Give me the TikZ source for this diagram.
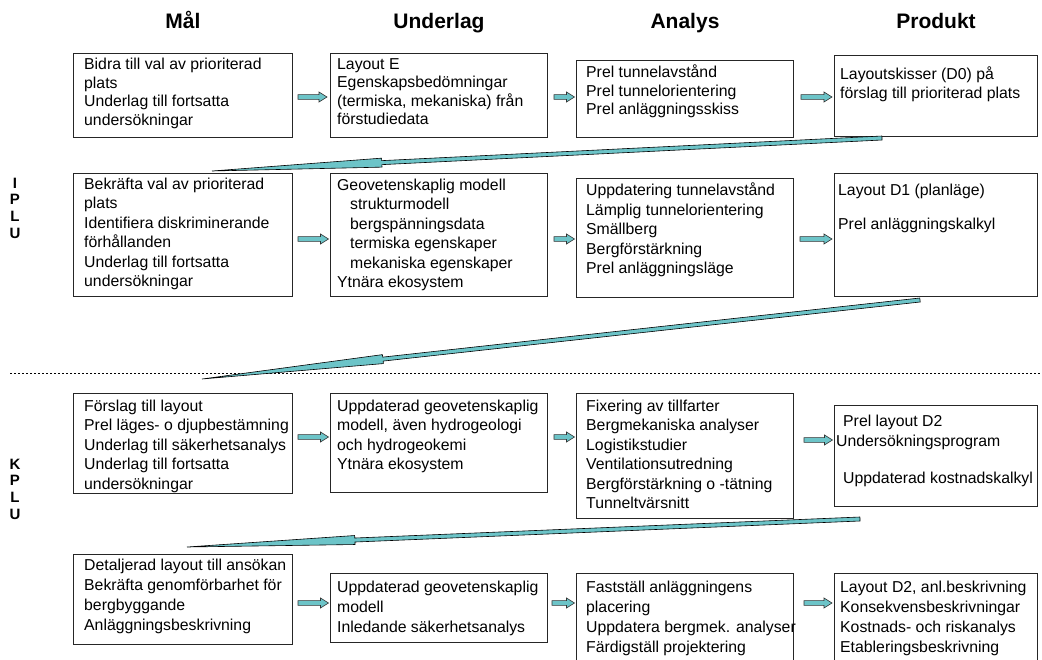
\documentclass[tikz,border=0pt]{standalone}
\usepackage{fontspec}
\setmainfont{Liberation Sans}
\usetikzlibrary{calc}

\definecolor{flowteal}{RGB}{108,196,200}

\tikzset{
  box/.style={draw=black!85, line width=1pt, anchor=north west, inner sep=0pt},
  txt/.style={anchor=north west, inner sep=0pt, align=left,
    font=\fontsize{15.8}{#1}\selectfont,
    execute at begin node=\rule{0pt}{12pt}},
  txt/.default=19.5,
  head/.style={font=\fontsize{21}{25}\selectfont\bfseries, anchor=base},
  side/.style={font=\fontsize{15}{16.8}\selectfont\bfseries, align=center,
    anchor=north, inner sep=0pt},
  flow/.style={draw=black!80, line width=0.6pt, fill=flowteal, line join=miter},
  wedge/.style={draw=black, line width=0.6pt, fill=flowteal, line join=miter},
  sep/.style={dash pattern=on 2pt off 2pt, line width=0.8pt}
}

% short block arrow between two boxes of a row
\newcommand{\flowarrow}[2]{%
  \draw[flow] let \p1=(#1), \p2=(#2) in
    (\x1,\y1+2.4pt) -- (\x2-8pt,\y1+2.4pt) -- (\x2-8pt,\y1+5pt) -- (\x2,\y1)
    -- (\x2-8pt,\y1-5pt) -- (\x2-8pt,\y1-2.4pt) -- (\x1,\y1-2.4pt) -- cycle;}

% long thin arrow from the end of one row to the start of the next
\newcommand{\rowlink}[3]{%
  \coordinate (hb) at ($(#2)!#3!(#1)$);
  \draw[wedge] ($(#1)!2pt!90:(#2)$) -- ($(hb)!2pt!90:(#2)$)
    -- ($(hb)!4.5pt!90:(#2)$) -- (#2) -- ($(hb)!4.5pt!-90:(#2)$)
    -- ($(hb)!2pt!-90:(#2)$) -- ($(#1)!2pt!-90:(#2)$) -- cycle;}

\begin{document}
\begin{tikzpicture}[x=1pt, y=-1pt]

\useasboundingbox (0,0) rectangle (1042,659);
\clip (0,0) rectangle (1042,659);

% rows where the short arrows sit
\coordinate (r1) at (0,97);
\coordinate (r2) at (0,239);
\coordinate (r3) at (0,437);
\coordinate (r3b) at (0,440);
\coordinate (r4) at (0,603);
\coordinate (top) at (0,28.5);

% first row
\node[box, minimum width=219pt, minimum height=84pt] (b11) at (73,53) {};
\node[box, minimum width=217pt, minimum height=84pt] (b12) at (330,53) {};
\node[box, minimum width=217pt, minimum height=77pt] (b13) at (576,60) {};
\node[box, minimum width=203pt, minimum height=81pt] (b14) at (834,55) {};

\node[txt=18.5] (t11) at ($(b11.north west)+(11,5)$)
  {Bidra till val av prioriterad\\plats\\Underlag till fortsatta\\undersökningar};
\node[txt=18.5] (t12) at ($(b12.north west)+(7,5)$)
  {Layout E\\Egenskapsbedömningar\\(termiska, mekaniska) från\\förstudiedata};
\node[txt=18.5] (t13) at ($(b13.north west)+(10,5)$)
  {Prel tunnelavstånd\\Prel tunnelorientering\\Prel anläggningsskiss};
\node[txt=18.5] (t14) at ($(b14.north west)+(6,12)$)
  {Layoutskisser (D0) på\\förslag till prioriterad plats};

% column heads
\node[head] (h1) at (b11.north |- top) {Mål};
\node[head] (h2) at (b12.north |- top) {Underlag};
\node[head] (h3) at (b13.north |- top) {Analys};
\node[head] (h4) at (b14.north |- top) {Produkt};

% second row
\node[box, minimum width=219pt, minimum height=123pt] (b21) at (73,173) {};
\node[box, minimum width=217pt, minimum height=123pt] (b22) at (330,173) {};
\node[box, minimum width=217pt, minimum height=119pt] (b23) at (576,178) {};
\node[box, minimum width=203pt, minimum height=123pt] (b24) at (834,173) {};

\node[txt] (t21) at ($(b21.north west)+(11,4.5)$)
  {Bekräfta val av prioriterad\\plats\\Identifiera diskriminerande\\förhållanden\\Underlag till fortsatta\\undersökningar};
\node[txt] (t22) at ($(b22.north west)+(7,5.7)$)
  {Geovetenskaplig modell\\\hspace*{13pt}strukturmodell\\\hspace*{13pt}bergspänningsdata\\\hspace*{13pt}termiska egenskaper\\\hspace*{13pt}mekaniska egenskaper\\Ytnära ekosystem};
\node[txt] (t23) at ($(b23.north west)+(10,5)$)
  {Uppdatering tunnelavstånd\\Lämplig tunnelorientering\\Smällberg\\Bergförstärkning\\Prel anläggningsläge};
\node[txt] (t24) at ($(b24.north west)+(4,11)$)
  {Layout D1 (planläge)\\[14.5pt]Prel anläggningskalkyl};

% IPLU / KPLU
\node[side] (iplu) at (15,177.5) {I\\P\\L\\U};
\node[side] (kplu) at (15,458.5) {K\\P\\L\\U};

% line between the two phases
\draw[sep] (10,373) -- (1042,373);

% third row
\node[box, minimum width=219pt, minimum height=100pt] (b31) at (73,393) {};
\node[box, minimum width=217pt, minimum height=99pt] (b32) at (330,393) {};
\node[box, minimum width=217pt, minimum height=125pt] (b33) at (576,393) {};
\node[box, minimum width=203pt, minimum height=101pt] (b34) at (834,405) {};

\node[txt] (t31) at ($(b31.north west)+(11,6.5)$)
  {Förslag till layout\\Prel läges- o djupbestämning\\Underlag till säkerhetsanalys\\Underlag till fortsatta\\undersökningar};
\node[txt] (t32) at ($(b32.north west)+(7,6.5)$)
  {Uppdaterad geovetenskaplig\\modell, även hydrogeologi\\och hydrogeokemi\\Ytnära ekosystem};
\node[txt] (t33) at ($(b33.north west)+(10,6.5)$)
  {Fixering av tillfarter\\Bergmekaniska analyser\\Logistikstudier\\Ventilationsutredning\\Bergförstärkning o -tätning\\Tunneltvärsnitt};
\node[txt] (t34) at ($(b34.north west)+(2,10)$)
  {\hspace*{7pt}Prel layout D2\\[0.5pt]Undersökningsprogram\\[17.5pt]\hspace*{7pt}Uppdaterad kostnadskalkyl};

% fourth row, cut by the lower edge
\node[box, minimum width=219pt, minimum height=90pt] (b41) at (73,554) {};
\node[box, minimum width=217pt, minimum height=69pt] (b42) at (330,573) {};
\node[box, minimum width=217pt, minimum height=100pt] (b43) at (576,573) {};
\node[box, minimum width=203pt, minimum height=100pt] (b44) at (834,573) {};

\node[txt=20] (t41) at ($(b41.north west)+(11,5)$)
  {Detaljerad layout till ansökan\\Bekräfta genomförbarhet för\\bergbyggande\\Anläggningsbeskrivning};
\node[txt=20] (t42) at ($(b42.north west)+(7,8)$)
  {Uppdaterad geovetenskaplig\\modell\\Inledande säkerhetsanalys};
\node[txt=20] (t43) at ($(b43.north west)+(10,8)$)
  {Fastställ anläggningens\\placering\\Uppdatera bergmek. analyser\\Färdigställ projektering};
\node[txt=20] (t44) at ($(b44.north west)+(6,8)$)
  {Layout D2, anl.beskrivning\\Konsekvensbeskrivningar\\Kostnads- och riskanalys\\Etableringsbeskrivning};

% short arrows along each row
\flowarrow{$(b11.east |- r1)+(5,0)$}{$(b12.west |- r1)+(-3,0)$}
\flowarrow{$(b12.east |- r1)+(6,0)$}{$(b13.west |- r1)+(-1.5,0)$}
\flowarrow{$(b13.east |- r1)+(7,0)$}{$(b14.west |- r1)+(-2,0)$}

\flowarrow{$(b21.east |- r2)+(5,0)$}{$(b22.west |- r2)+(-1.5,0)$}
\flowarrow{$(b22.east |- r2)+(6,0)$}{$(b23.west |- r2)+(-1.5,0)$}
\flowarrow{$(b23.east |- r2)+(6,0)$}{$(b24.west |- r2)+(-2,0)$}

\flowarrow{$(b31.east |- r3)+(5,0)$}{$(b32.west |- r3)+(-1.5,0)$}
\flowarrow{$(b32.east |- r3)+(6,0)$}{$(b33.west |- r3)+(-1.5,0)$}
\flowarrow{$(b33.east |- r3b)+(10,0)$}{$(b34.west |- r3b)+(-1.5,0)$}

\flowarrow{$(b41.east |- r4)+(5,0)$}{$(b42.west |- r4)+(-1.5,0)$}
\flowarrow{$(b42.east |- r4)+(4,0)$}{$(b43.west |- r4)+(-1.5,0)$}
\flowarrow{$(b43.east |- r4)+(10,0)$}{$(b44.west |- r4)+(-2,0)$}

% long arrows back to the start of the next row
\coordinate (w1s) at ($(b14.south west)+(48,1)$);
\coordinate (w1e) at ($(b21.north west)+(139,-2)$);
\coordinate (w2s) at ($(b24.south west)+(86,3)$);
\coordinate (w2e) at ($(b31.north west)+(129,-14)$);
\coordinate (w3s) at ($(b34.south west)+(26,12)$);
\coordinate (w3e) at ($(b41.north west)+(114,-7)$);

\rowlink{w1s}{w1e}{170pt}
\rowlink{w2s}{w2e}{182pt}
\rowlink{w3s}{w3e}{168pt}

\end{tikzpicture}
\end{document}
